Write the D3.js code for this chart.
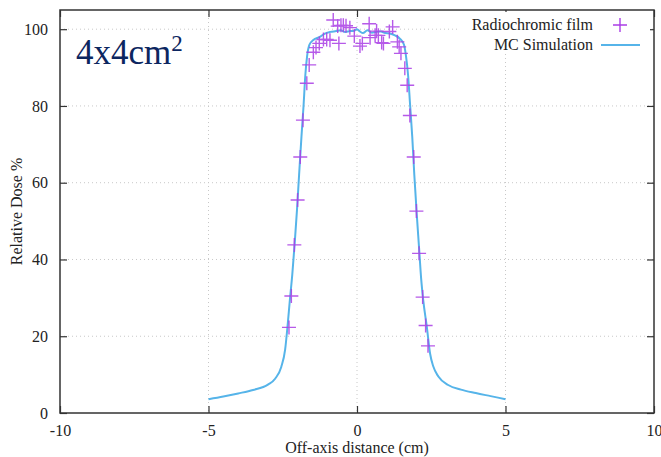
<!DOCTYPE html>
<html><head><meta charset="utf-8">
<script src="https://cdn.jsdelivr.net/npm/d3@7"></script>
<style>body{margin:0;background:#fff}svg{display:block}</style>
</head><body><svg id="c" width="661" height="457"></svg>
<script>
const xTicks = [-10, -5, 0, 5, 10];
const yTicks = [0, 20, 40, 60, 80, 100];
const filmX = [-2.29,-2.21,-2.11,-2.00,-1.91,-1.82,-1.69,-1.61,-1.47,-1.38,-1.27,-1.13,-1.02,-0.91,-0.80,-0.65,-0.54,-0.46,-0.37,-0.24,-0.61,-0.09,0.10,0.18,0.41,0.44,0.61,0.66,0.72,0.83,0.89,1.09,1.20,1.36,1.42,1.48,1.61,1.69,1.78,1.91,2.00,2.09,2.21,2.31,2.39];
const filmY = [22.3,30.5,43.8,55.5,66.7,76.3,85.9,90.7,94.0,95.2,96.3,97.3,97.3,97.1,102.4,100.8,101.0,101.0,100.9,100.4,96.3,98.2,95.6,96.3,101.4,97.8,98.4,99.5,98.4,96.5,96.3,99.4,100.6,96.7,95.4,93.7,89.8,85.4,77.5,66.7,52.6,41.6,30.2,22.8,17.5];
const mcX = [-5.0,-4.5,-4.0,-3.5,-3.0,-2.75,-2.55,-2.42,-2.34,-2.26,-2.18,-2.10,-2.02,-1.95,-1.87,-1.80,-1.74,-1.68,-1.60,-1.47,-1.25,-1.1,-0.9,-0.7,-0.55,-0.4,-0.24,-0.1,0.0,0.1,0.2,0.35,0.5,0.65,0.8,0.95,1.1,1.28,1.45,1.58,1.65,1.72,1.79,1.86,1.93,2.01,2.09,2.16,2.23,2.35,2.46,2.57,2.74,3.07,3.5,4.0,4.5,5.0];
const mcY = [3.6,4.3,5.1,6.0,7.4,9.0,12.0,16.5,22.5,29.5,36,44,53,62,72,80,88,93,96,97.2,98.0,98.8,99.3,99.5,99.7,99.3,99.5,99.6,100.0,99.4,99.0,99.7,99.1,99.3,99.4,99.0,98.9,98.4,97.5,96,93,88,80,72,62,52,43,35,29.4,22.5,15.5,12.1,9.5,7.3,6.1,5.2,4.4,3.6];
const seriesNames = ["Radiochromic film", "MC Simulation"];

const L = 60, R = 654, T = 10, B = 413;
const svg = d3.select("#c");
const x = d3.scaleLinear().domain([-10, 10]).range([L, R]);
const y = d3.scaleLinear().domain([0, 105]).range([B, T]);
const font = "'Liberation Serif', 'DejaVu Serif', serif";
const purple = "#aa3ee6", blue = "#56b4e9";
const fmt = d => String(d);

// grid
const g = svg.append("g");
g.selectAll(".gx").data(xTicks.filter(d => d > -10 && d < 10)).join("line")
  .attr("x1", d => x(d)).attr("x2", d => x(d)).attr("y1", T).attr("y2", B)
  .attr("stroke", "#c8c8c8").attr("stroke-width", 1).attr("stroke-dasharray", "1,3");
g.selectAll(".gy").data(yTicks.filter(d => d > 0)).join("line")
  .attr("x1", L).attr("x2", R).attr("y1", d => y(d)).attr("y2", d => y(d))
  .attr("stroke", "#c8c8c8").attr("stroke-width", 1).attr("stroke-dasharray", "1,3");

// axes (inward ticks, mirrored)
const ax = (sel, axis) => {
  sel.call(axis);
  sel.select(".domain").remove();
  sel.selectAll(".tick line").attr("stroke", "#333").attr("stroke-width", 1.2);
  sel.selectAll(".tick text").attr("font-family", font).attr("font-size", 16).attr("fill", "#222");
};
svg.append("g").attr("transform", `translate(0,${B})`)
  .call(s => ax(s, d3.axisBottom(x).tickValues(xTicks).tickFormat(fmt).tickSizeInner(-7).tickPadding(12)));
svg.append("g").attr("transform", `translate(0,${T})`)
  .call(s => { ax(s, d3.axisTop(x).tickValues(xTicks).tickSizeInner(-7)); s.selectAll("text").remove(); });
svg.append("g").attr("transform", `translate(${L},0)`)
  .call(s => ax(s, d3.axisLeft(y).tickValues(yTicks).tickFormat(fmt).tickSizeInner(-7).tickPadding(12)));
svg.append("g").attr("transform", `translate(${R},0)`)
  .call(s => { ax(s, d3.axisRight(y).tickValues(yTicks).tickSizeInner(-7)); s.selectAll("text").remove(); });

svg.append("rect").attr("x", L).attr("y", T).attr("width", R - L).attr("height", B - T)
  .attr("fill", "none").attr("stroke", "#333").attr("stroke-width", 1.5);

// MC line
const line = d3.line().x((d, i) => x(mcX[i])).y((d, i) => y(mcY[i])).curve(d3.curveMonotoneX);
svg.append("path").datum(mcY).attr("d", line).attr("fill", "none")
  .attr("stroke", blue).attr("stroke-width", 2);

// film crosses
const cs = 7;
const crosses = svg.append("g").attr("stroke", purple).attr("stroke-width", 1.4).attr("opacity", 0.85);
filmX.forEach((fx, i) => {
  const cx = x(fx), cy = y(filmY[i]);
  crosses.append("path").attr("d", `M${cx - cs},${cy}H${cx + cs}M${cx},${cy - cs}V${cy + cs}`);
});

// legend
svg.append("rect").attr("x", 458).attr("y", 12).attr("width", 192).attr("height", 42).attr("fill", "#fff");
svg.append("text").attr("x", 593).attr("y", 30).attr("text-anchor", "end")
  .attr("font-family", font).attr("font-size", 16).attr("fill", "#222").text(seriesNames[0]);
svg.append("path").attr("d", `M${613},${25}H${627}M${620},${18}V${32}`).attr("stroke", purple).attr("stroke-width", 1.4);
svg.append("text").attr("x", 593).attr("y", 50).attr("text-anchor", "end")
  .attr("font-family", font).attr("font-size", 16).attr("fill", "#222").text(seriesNames[1]);
svg.append("line").attr("x1", 601).attr("x2", 640).attr("y1", 45).attr("y2", 45).attr("stroke", blue).attr("stroke-width", 2);

// title label
const t = svg.append("text").attr("x", 76).attr("y", 64).attr("font-family", font)
  .attr("font-size", 35).attr("fill", "#0c2660");
t.append("tspan").text("4x4cm");
t.append("tspan").attr("font-size", 23).attr("dy", -13).text("2");

// axis labels
svg.append("text").attr("x", (L + R) / 2).attr("y", 453).attr("text-anchor", "middle")
  .attr("font-family", font).attr("font-size", 16).attr("fill", "#222").text("Off-axis distance (cm)");
svg.append("text").attr("transform", `translate(22,${(T + B) / 2}) rotate(-90)`).attr("text-anchor", "middle")
  .attr("font-family", font).attr("font-size", 16).attr("fill", "#222").text("Relative Dose %");
</script></body></html>
